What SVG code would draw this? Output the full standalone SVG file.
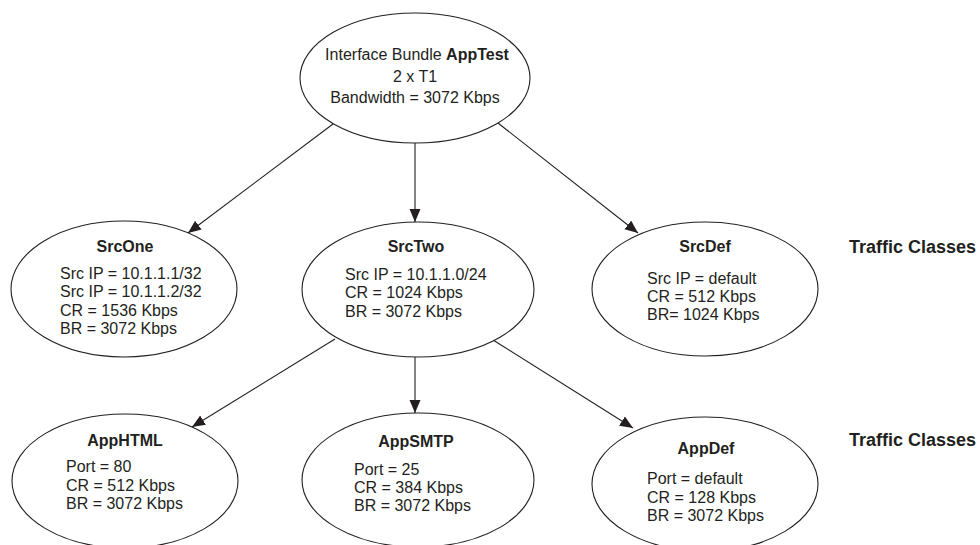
<svg xmlns="http://www.w3.org/2000/svg" width="980" height="545" viewBox="0 0 980 545">
<style>
.node ellipse{fill:#fff;stroke:#231f20;stroke-width:1.1}
text{font-family:"Liberation Sans",Arial,sans-serif;font-size:16px;fill:#231f20}
.t{font-weight:bold;text-anchor:middle}
.c{text-anchor:middle}
.lbl{font-weight:bold;font-size:18px}
.conn line{stroke:#231f20;stroke-width:1.1;marker-end:url(#arr)}
</style>
<defs>
<marker id="arr" markerUnits="userSpaceOnUse" markerWidth="14" markerHeight="12" refX="13" refY="5.5" orient="auto">
<path d="M0,0 L13,5.5 L0,11 z" fill="#231f20"/>
</marker>
</defs>
<rect width="980" height="545" fill="#fff"/>
<g id="connectors" class="conn">
<line x1="333" y1="124" x2="188" y2="233"/>
<line x1="415" y1="143" x2="415" y2="222"/>
<line x1="498" y1="123" x2="638" y2="233"/>
<line x1="335" y1="339" x2="192" y2="427"/>
<line x1="415" y1="357" x2="415" y2="413"/>
<line x1="493" y1="340" x2="633" y2="428"/>
</g>
<g id="AppTest" class="node">
<ellipse cx="415" cy="78" rx="115" ry="65"/>
<text class="c" x="417" y="60">Interface Bundle <tspan font-weight="bold">AppTest</tspan></text>
<text class="c" x="415" y="81.5">2 x T1</text>
<text class="c" x="415" y="103">Bandwidth = 3072 Kbps</text>
</g>
<g id="SrcOne" class="node">
<ellipse cx="124" cy="289" rx="113" ry="68"/>
<text class="t" x="125" y="252">SrcOne</text>
<text x="60" y="279">Src IP = 10.1.1.1/32</text>
<text x="60" y="297">Src IP = 10.1.1.2/32</text>
<text x="60" y="315.5">CR = 1536 Kbps</text>
<text x="60" y="333.5">BR = 3072 Kbps</text>
</g>
<g id="SrcTwo" class="node">
<ellipse cx="418" cy="289.5" rx="116" ry="67.5"/>
<text class="t" x="416" y="252">SrcTwo</text>
<text x="345" y="280">Src IP = 10.1.1.0/24</text>
<text x="345" y="298">CR = 1024 Kbps</text>
<text x="345" y="316.5">BR = 3072 Kbps</text>
</g>
<g id="SrcDef" class="node">
<ellipse cx="705" cy="289" rx="113" ry="67"/>
<text class="t" x="705" y="252">SrcDef</text>
<text x="647" y="284">Src IP = default</text>
<text x="647" y="302">CR = 512 Kbps</text>
<text x="647" y="320">BR= 1024 Kbps</text>
</g>
<g id="AppHTML" class="node">
<ellipse cx="125" cy="481" rx="113" ry="67"/>
<text class="t" x="125" y="446">AppHTML</text>
<text x="66" y="472">Port = 80</text>
<text x="66" y="490.5">CR = 512 Kbps</text>
<text x="66" y="509">BR = 3072 Kbps</text>
</g>
<g id="AppSMTP" class="node">
<ellipse cx="418" cy="480" rx="116" ry="67"/>
<text class="t" x="416" y="447">AppSMTP</text>
<text x="354" y="475">Port = 25</text>
<text x="354" y="493">CR = 384 Kbps</text>
<text x="354" y="511">BR = 3072 Kbps</text>
</g>
<g id="AppDef" class="node">
<ellipse cx="705" cy="484" rx="113" ry="67"/>
<text class="t" x="706" y="454">AppDef</text>
<text x="647" y="484">Port = default</text>
<text x="647" y="502.5">CR = 128 Kbps</text>
<text x="647" y="520.5">BR = 3072 Kbps</text>
</g>
<g id="labels">
<text class="lbl" x="849" y="253">Traffic Classes</text>
<text class="lbl" x="849" y="446">Traffic Classes</text>
</g>
</svg>
